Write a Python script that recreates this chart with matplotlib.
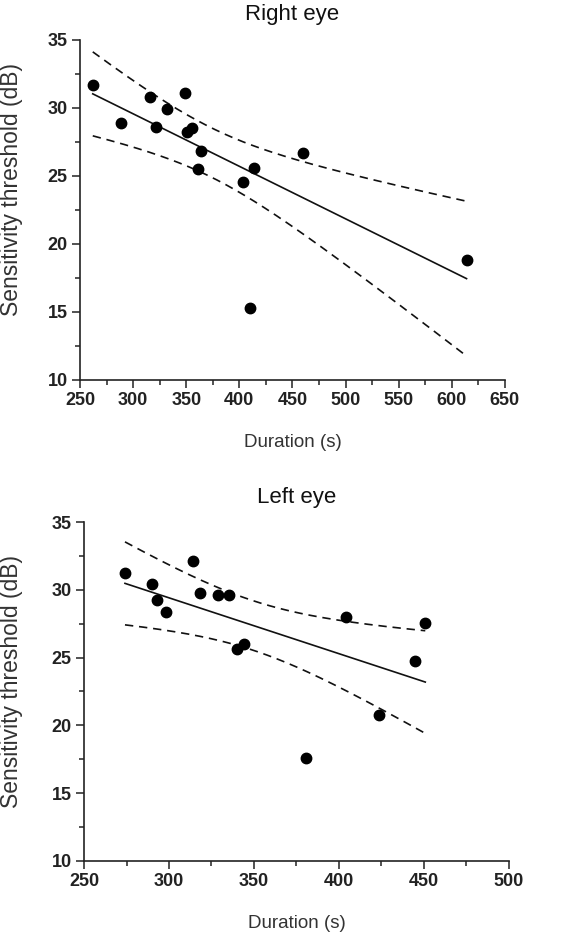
import numpy as np
import matplotlib
matplotlib.use("Agg")
import matplotlib.pyplot as plt
from matplotlib.ticker import MultipleLocator

plt.rcParams["font.family"] = ["Liberation Sans", "DejaVu Sans"]

# Right eye: duration (s) vs sensitivity threshold (dB)
right_dur = [262, 288.6, 315.6, 321.8, 331.9, 349.1, 350.7, 355.1, 363.6, 361.0,
             403.7, 413.8, 460.2, 409.7, 613.9]
right_thr = [31.7, 28.9, 30.76, 28.58, 29.9, 31.08, 28.19, 28.5, 26.86, 25.5,
             24.58, 25.61, 26.67, 15.32, 18.8]

# Left eye
left_dur = [274.1, 290.0, 293.1, 298.0, 313.9, 318.0, 329.0, 335.1, 403.9, 450.8,
            339.8, 344.1, 444.9, 423.7, 380.8]
left_thr = [31.23, 30.42, 29.24, 28.33, 32.16, 29.8, 29.63, 29.63, 27.96, 27.52,
            25.64, 26.03, 24.73, 20.74, 17.62]

T_CRIT = 2.1604  # t(0.975, df=13)


def fit_band(x, y):
    x = np.asarray(x, float)
    y = np.asarray(y, float)
    n = len(x)
    b, a = np.polyfit(x, y, 1)
    res = y - (a + b * x)
    s = np.sqrt(np.sum(res ** 2) / (n - 2))
    xm = x.mean()
    sxx = np.sum((x - xm) ** 2)
    xs = np.linspace(x.min(), x.max(), 200)
    yh = a + b * xs
    half = T_CRIT * s * np.sqrt(1.0 / n + (xs - xm) ** 2 / sxx)
    return xs, yh, yh - half, yh + half


def panel(ax, x, y, title, xlim, xmajor, label_xy):
    xs, yh, lo, hi = fit_band(x, y)
    ax.plot(xs, yh, color="#111111", lw=1.2)
    ax.plot(xs, lo, color="#111111", lw=1.2, ls=(0, (5, 3.5)))
    ax.plot(xs, hi, color="#111111", lw=1.2, ls=(0, (5, 3.5)))
    ax.plot(x, y, "o", color="black", ms=7.5, zorder=3)
    ax.set_xlim(*xlim)
    ax.set_ylim(10, 35)
    ax.xaxis.set_major_locator(MultipleLocator(xmajor))
    ax.xaxis.set_minor_locator(MultipleLocator(xmajor / 2))
    ax.yaxis.set_major_locator(MultipleLocator(5))
    ax.yaxis.set_minor_locator(MultipleLocator(2.5))
    for side in ["top", "right"]:
        ax.spines[side].set_visible(False)
    for side in ["left", "bottom"]:
        ax.spines[side].set_linewidth(1.2)
        ax.spines[side].set_color("#222222")
    ax.tick_params(which="major", direction="out", length=6, width=1.1,
                   labelsize=13, colors="#222222", pad=3)
    ax.tick_params(which="minor", direction="out", length=3.5, width=1.1,
                   colors="#222222")
    for lab in ax.get_xticklabels() + ax.get_yticklabels():
        lab.set_fontweight("bold")
    ax.set_title(title, fontsize=16, pad=14, color="#111111")
    ax.set_xlabel("Duration (s)", fontsize=13.5, color="#333333", labelpad=18)
    ax.set_ylabel("Sensitivity threshold (dB)", fontsize=16.5, color="#333333")
    ax.yaxis.set_label_coords(*label_xy)


def main():
    fig = plt.figure(figsize=(5.65, 9.32), dpi=100)
    ax1 = fig.add_axes([0.1416, 0.5923, 0.752, 0.365])
    ax2 = fig.add_axes([0.1487, 0.0762, 0.752, 0.3637])
    panel(ax1, right_dur, right_thr, "Right eye", (250, 650), 50, (-0.135, 0.56))
    panel(ax2, left_dur, left_thr, "Left eye", (250, 500), 50, (-0.144, 0.53))
    for ln in ax1.lines + ax2.lines:
        ln.set_clip_on(False)
    fig.savefig("out.png", dpi=100)


if __name__ == '__main__':
    main()
